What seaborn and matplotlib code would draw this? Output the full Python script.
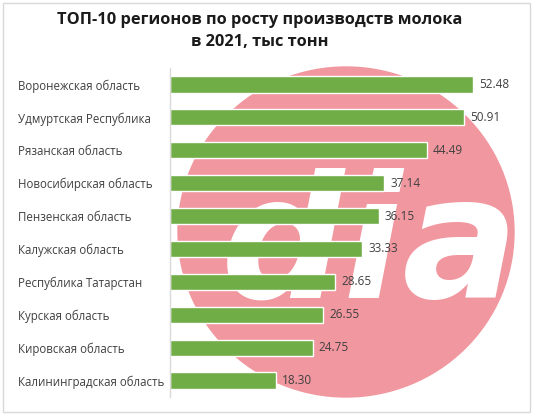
import matplotlib
matplotlib.use("Agg")
import matplotlib.pyplot as plt
import seaborn as sns
import pandas as pd
from matplotlib.patches import Ellipse, Rectangle

regions = ["Воронежская область", "Удмуртская Республика", "Рязанская область",
           "Новосибирская область", "Пензенская область", "Калужская область",
           "Республика Татарстан", "Курская область", "Кировская область",
           "Калининградская область"]
values = [52.48, 50.91, 44.49, 37.14, 36.15, 33.33, 28.65, 26.55, 24.75, 18.30]
title = "ТОП-10 регионов по росту производств молока\nв 2021, тыс тонн"

df = pd.DataFrame({"region": regions, "value": values})

sns.set_theme(style="white")
plt.rcParams["font.family"] = ["Open Sans", "DejaVu Sans"]

W, H = 539, 415
fig = plt.figure(figsize=(W / 100, H / 100), dpi=100)

# frame border
fig.patches.append(Rectangle((3 / W, 1 - 412 / H), 527 / W, 409 / H,
                             transform=fig.transFigure, fill=False,
                             edgecolor="#D9D9D9", linewidth=1, zorder=0))

# watermark (pink circle with white letters)
bg = fig.add_axes([0, 0, 1, 1], zorder=0)
bg.set_xlim(0, W)
bg.set_ylim(H, 0)
bg.axis("off")
circ = Ellipse((346, 232), 336, 330, color="#F1979F", zorder=1)
bg.add_patch(circ)
t = bg.text(370, 298, "dia", fontsize=124, fontweight="bold", style="italic",
            color="white", ha="center", va="baseline", family="DejaVu Sans", zorder=2)
t.set_clip_path(circ)

left, right = 170 / W, 516.4 / W
bottom, top = 1 - 397 / H, 1 - 68 / H
ax = fig.add_axes([left, bottom, right - left, top - bottom], zorder=1)
ax.patch.set_alpha(0)

sns.barplot(data=df, y="region", x="value", orient="h", color="#70AD47",
            width=0.49, saturation=1, ax=ax)
ax.set_xlim(0, 60)
ax.set_xlabel("")
ax.set_ylabel("")
ax.set_xticks([])
for s in ["top", "right", "bottom"]:
    ax.spines[s].set_visible(False)
ax.spines["left"].set_color("#D9D9D9")
ax.spines["left"].set_linewidth(1)
ax.tick_params(axis="y", length=0, pad=(170 - 18) * 0.72, labelsize=8.3, labelcolor="#404040")
for lab in ax.get_yticklabels():
    lab.set_ha("left")

for i, v in enumerate(values):
    ax.text(v + 1.0, i, f"{v:.2f}", va="center", ha="left", fontsize=8.5, color="#404040")

fig.text(260 / W, 1 - 31 / H, title, ha="center", va="center", fontsize=11.8,
         fontweight="bold", color="#1a1a1a", linespacing=1.45)

fig.savefig("out.png", dpi=100)
